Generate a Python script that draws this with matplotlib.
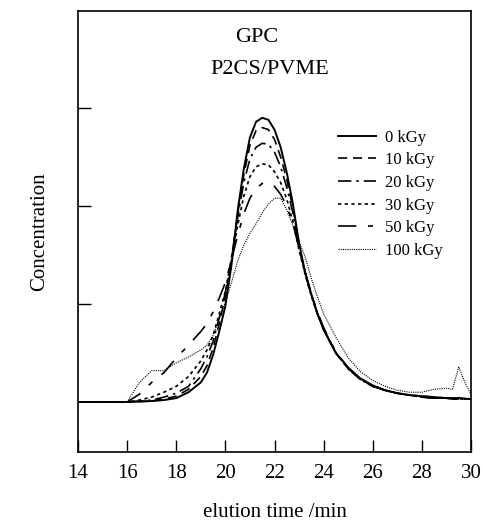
import matplotlib
matplotlib.use("Agg")
import matplotlib.pyplot as plt

plt.rcParams['font.family'] = ['Liberation Serif', 'DejaVu Serif']

# elution time grid (min)
t = [14, 15, 16, 16.5, 17, 17.5, 18, 18.5, 19, 19.25, 19.5, 19.75, 20, 20.25,
     20.5, 20.75, 21, 21.25, 21.5, 21.75, 22, 22.25, 22.5, 22.75, 23, 23.25,
     23.5, 23.75, 24, 24.5, 25, 25.5, 26, 26.5, 27, 27.5, 28, 28.5, 29, 29.25,
     29.5, 29.75, 30]

c0 = [0, 0, 0, 0.005, 0.01, 0.02, 0.04, 0.1, 0.2, 0.3, 0.48, 0.72, 0.98, 1.4,
      1.95, 2.38, 2.7, 2.86, 2.9, 2.88, 2.78, 2.6, 2.34, 2.02, 1.62, 1.32,
      1.1, 0.9, 0.74, 0.5, 0.35, 0.24, 0.17, 0.12, 0.09, 0.07, 0.06, 0.05,
      0.04, 0.04, 0.04, 0.035, 0.03]
c10 = [0, 0, 0, 0.005, 0.01, 0.03, 0.06, 0.13, 0.26, 0.37, 0.55, 0.8, 1.08, 1.45,
       1.92, 2.32, 2.62, 2.77, 2.8, 2.78, 2.68, 2.5, 2.27, 1.98, 1.6, 1.32,
       1.1, 0.9, 0.74, 0.5, 0.34, 0.23, 0.16, 0.12, 0.09, 0.07, 0.06, 0.05,
       0.04, 0.04, 0.04, 0.035, 0.03]
c20 = [0, 0, 0, 0.01, 0.02, 0.05, 0.09, 0.16, 0.34, 0.46, 0.62, 0.86, 1.12, 1.48,
       1.88, 2.24, 2.48, 2.6, 2.64, 2.63, 2.55, 2.4, 2.19, 1.93, 1.58, 1.31,
       1.09, 0.9, 0.74, 0.5, 0.34, 0.23, 0.16, 0.12, 0.09, 0.07, 0.05, 0.04,
       0.04, 0.03, 0.03, 0.03, 0.03]
c30 = [0, 0, 0, 0.02, 0.05, 0.1, 0.16, 0.26, 0.42, 0.53, 0.68, 0.9, 1.13, 1.45,
       1.8, 2.1, 2.3, 2.4, 2.43, 2.42, 2.35, 2.24, 2.07, 1.84, 1.55, 1.3,
       1.08, 0.9, 0.74, 0.5, 0.34, 0.23, 0.16, 0.12, 0.09, 0.07, 0.05, 0.04,
       0.04, 0.03, 0.03, 0.03, 0.03]
c50 = [0, 0, 0, 0.08, 0.2, 0.3, 0.45, 0.58, 0.72, 0.8, 0.92, 1.06, 1.22, 1.45,
       1.7, 1.92, 2.08, 2.18, 2.23, 2.24, 2.2, 2.12, 2.0, 1.82, 1.57, 1.32,
       1.1, 0.92, 0.76, 0.51, 0.35, 0.24, 0.17, 0.12, 0.09, 0.07, 0.05, 0.04,
       0.04, 0.03, 0.03, 0.03, 0.03]
c100 = [0, 0, 0, 0.2, 0.32, 0.32, 0.4, 0.46, 0.53, 0.58, 0.68, 0.85, 1.02, 1.22,
        1.44, 1.6, 1.72, 1.82, 1.93, 2.02, 2.08, 2.08, 1.96, 1.8, 1.64, 1.48,
        1.26, 1.07, 0.9, 0.66, 0.45, 0.31, 0.22, 0.16, 0.12, 0.1, 0.1, 0.13,
        0.14, 0.13, 0.36, 0.2, 0.08]

labels = ['0 kGy', '10 kGy', '20 kGy', '30 kGy', '50 kGy', '100 kGy']
series = [c0, c10, c20, c30, c50, c100]
styles = [
    dict(ls='-', lw=1.4),
    dict(ls=(0, (5.5, 3.5)), lw=1.2),
    dict(ls=(0, (8, 3, 1.5, 3)), lw=1.2),
    dict(ls=(0, (2, 2)), lw=1.2),
    dict(ls=(0, (11, 7, 3, 7)), lw=1.2),
    dict(ls=(0, (1, 1)), lw=0.8),
]

W, H = 483, 522
fig = plt.figure(figsize=(W / 100, H / 100), dpi=100)
ax = fig.add_axes([78 / W, 70 / H, 393 / W, 441 / H])

for y, lab, st in zip(series, labels, styles):
    ax.plot(t, y, color='black', label=lab, **st)

ax.set_xlim(14, 30)
ax.set_ylim(-0.51, 3.99)
ax.set_xticks(range(14, 31, 2))
ax.set_yticks([1, 2, 3])
ax.set_yticklabels([])
ax.tick_params(direction='in', length=9, width=1, labelsize=15, pad=9)
for s in ax.spines.values():
    s.set_linewidth(1.2)

ax.set_xlabel('elution time /min', fontsize=15, labelpad=14)
ax.set_ylabel('Concentration', fontsize=15, labelpad=12)

fig.text(257 / W, 1 - 37 / H, 'GPC', fontsize=16, ha='center', va='center')
fig.text(270 / W, 1 - 70 / H, 'P2CS/PVME', fontsize=16, ha='center', va='center')

ax.legend(loc='upper left', bbox_to_anchor=(0.64, 0.75), frameon=False,
          fontsize=12, handlelength=2.3, handletextpad=0.5, labelspacing=0.4,
          borderpad=0)

fig.savefig('out.png', dpi=100)
